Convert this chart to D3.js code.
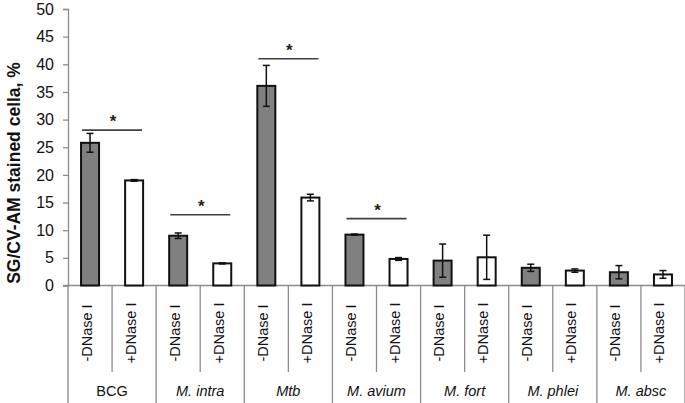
<!DOCTYPE html>
<html><head><meta charset="utf-8">
<script src="https://cdn.jsdelivr.net/npm/d3@7"></script>
<style>body{margin:0;background:#fff}svg{display:block;font-family:"Liberation Sans",Arial,sans-serif}</style>
</head><body><svg id="c" width="685" height="403"></svg>
<script>
const groups = ["BCG","M. intra","Mtb","M. avium","M. fort","M. phlei","M. absc"];
const groupItalic = [false,true,true,true,true,true,true];
const conditions = ["-DNase I","+DNase I"];
const valuesMinus = [25.8, 9.0, 36.1, 9.2, 4.5, 3.2, 2.4];
const valuesPlus  = [19.0, 4.0, 15.9, 4.8, 5.1, 2.7, 2.0];
const errMinus = [1.7, 0.5, 3.7, 0.1, 3.0, 0.65, 1.2];
const errPlus  = [0.15, 0.1, 0.6, 0.25, 4.0, 0.3, 0.7];
const sigGroups = [0, 1, 2, 3];
const sigLevels = [28.1, 12.8, 41.0, 12.1];
const yTicks = [0,5,10,15,20,25,30,35,40,45,50];
const yTitle = "SG/CV-AM stained cella, %";

const bars = [];
groups.forEach((g,i)=>{
  bars.push({g:i, c:0, v:valuesMinus[i], e:errMinus[i]});
  bars.push({g:i, c:1, v:valuesPlus[i], e:errPlus[i]});
});

const svg = d3.select("#c");
const x = d3.scaleBand().domain(d3.range(bars.length)).range([68, 685]).paddingInner(0).paddingOuter(0);
const y = d3.scaleLinear().domain([0,50]).range([285.5, 9]);
const bw = 18;
const axisCol = "#8c8c8c";

// y axis
const ya = svg.append("g").attr("transform","translate(68,0)")
  .call(d3.axisLeft(y).tickValues(yTicks).tickSize(5).tickPadding(9));
ya.select(".domain").attr("stroke",axisCol).attr("stroke-width",1.3);
ya.selectAll(".tick line").attr("stroke",axisCol).attr("stroke-width",1.3);
ya.selectAll(".tick text").attr("font-size",16).attr("fill","#111").attr("font-family","Liberation Sans, Arial, sans-serif");

// x baseline
svg.append("line").attr("x1",63).attr("x2",685).attr("y1",y(0)).attr("y2",y(0))
  .attr("stroke",axisCol).attr("stroke-width",1.3);

// separators
d3.range(bars.length+1).forEach(k=>{
  const xx = k<bars.length ? x(k) : 685;
  const isGroup = k%2===0;
  svg.append("line").attr("x1",xx).attr("x2",xx).attr("y1",y(0)).attr("y2",isGroup?403:372)
    .attr("stroke",axisCol).attr("stroke-width",1.3);
});

// bars
svg.selectAll("rect.bar").data(bars).enter().append("rect")
  .attr("x",(d,i)=>x(i)+x.bandwidth()/2-bw/2)
  .attr("y",d=>y(d.v))
  .attr("width",bw)
  .attr("height",d=>y(0)-y(d.v))
  .attr("fill",d=>d.c===0?"#808080":"#ffffff")
  .attr("stroke","#111").attr("stroke-width",2);

// error bars
const eg = svg.append("g").attr("stroke","#111").attr("stroke-width",1.5);
bars.forEach((d,i)=>{
  const cx = x(i)+x.bandwidth()/2;
  const t = y(d.v+d.e), b = y(d.v-d.e);
  eg.append("line").attr("x1",cx).attr("x2",cx).attr("y1",t).attr("y2",b);
  eg.append("line").attr("x1",cx-3.5).attr("x2",cx+3.5).attr("y1",t).attr("y2",t);
  eg.append("line").attr("x1",cx-3.5).attr("x2",cx+3.5).attr("y1",b).attr("y2",b);
});

// significance
sigGroups.forEach((g,k)=>{
  const gc = x(g*2+1);
  const yy = y(sigLevels[k]);
  svg.append("line").attr("x1",gc-30).attr("x2",gc+30).attr("y1",yy).attr("y2",yy)
    .attr("stroke","#404040").attr("stroke-width",1.6);
  svg.append("text").attr("x",gc+1).attr("y",yy-3).attr("text-anchor","middle")
    .attr("font-size",17).attr("font-weight","bold").attr("fill","#222").text("*");
});

// condition labels
bars.forEach((d,i)=>{
  const cx = x(i)+x.bandwidth()/2;
  svg.append("text").attr("transform",`translate(${cx+1.5},333) rotate(-90)`)
    .attr("text-anchor","middle").attr("font-size",14.5).attr("fill","#111")
    .text(conditions[d.c]);
});

// group labels
groups.forEach((g,i)=>{
  const gc = x(i*2+1);
  svg.append("text").attr("x",gc).attr("y",396).attr("text-anchor","middle")
    .attr("font-size",14.5).attr("fill","#111")
    .attr("font-style",groupItalic[i]?"italic":"normal").text(g);
});

// y title
svg.append("text").attr("transform","translate(19.5,173) rotate(-90)")
  .attr("text-anchor","middle").attr("font-size",17.5).attr("font-weight","bold").attr("fill","#111")
  .text(yTitle);
</script></body></html>
